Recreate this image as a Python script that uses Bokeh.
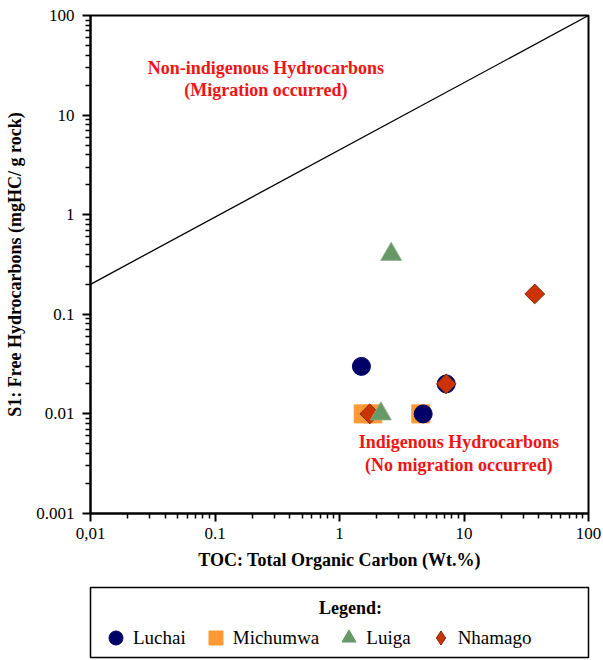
import math
from bokeh.plotting import figure
from bokeh.models import (Range1d, FixedTicker, CustomJSTickFormatter, Label, Legend, LegendItem)
from bokeh.layouts import column
from bokeh.embed import file_html
from bokeh.resources import INLINE

# ---- data ----
luchai_toc = [1.5, 7.2, 4.7]
luchai_s1 = [0.03, 0.02, 0.01]
michumwa_toc = [1.55, 1.85, 4.5]
michumwa_s1 = [0.01, 0.01, 0.01]
luiga_toc = [2.6, 2.15]
luiga_s1 = [0.4, 0.01]
nhamago_toc = [37.0, 7.2, 1.75]
nhamago_s1 = [0.16, 0.02, 0.01]
boundary_toc = [0.01, 100]
boundary_s1 = [0.2, 100]
decades = [0.001, 0.01, 0.1, 1, 10, 100]

FONT = "Liberation Serif"
RED = "#f01414"
C_LUCHAI = "#000066"
C_MICHUMWA = "#ff9933"
C_LUIGA = "#669966"
C_NHAMAGO = "#cc3300"

p = figure(width=603, height=580, x_axis_type="log", y_axis_type="log",
           x_range=Range1d(0.01, 100), y_range=Range1d(0.001, 100),
           output_backend="svg", toolbar_location=None,
           min_border_left=90, min_border_right=13, min_border_top=15, min_border_bottom=67)
p.xgrid.visible = False
p.ygrid.visible = False
p.outline_line_color = "black"
p.outline_line_width = 2
p.outline_line_alpha = 1

minors = [m * d for d in decades[:-1] for m in range(2, 10)]
fmt_x = CustomJSTickFormatter(code="""
const s = Number(tick.toPrecision(3)).toString();
return (Math.abs(tick - 0.01) < 1e-6) ? s.replace('.', ',') : s;
""")
fmt_y = CustomJSTickFormatter(code="return Number(tick.toPrecision(3)).toString();")

for ax, fmt in ((p.xaxis[0], fmt_x), (p.yaxis[0], fmt_y)):
    ax.ticker = FixedTicker(ticks=decades, minor_ticks=minors)
    ax.formatter = fmt
    ax.axis_line_width = 2
    ax.axis_line_color = "black"
    ax.major_tick_line_width = 2
    ax.minor_tick_line_width = 1.5
    ax.major_tick_in = 0
    ax.major_tick_out = 8
    ax.minor_tick_in = 0
    ax.minor_tick_out = 5
    ax.major_label_text_font = FONT
    ax.major_label_text_font_size = "17px"
    ax.major_label_text_color = "black"
    ax.axis_label_text_font = FONT
    ax.axis_label_text_font_size = "18px"
    ax.axis_label_text_font_style = "bold"
    ax.axis_label_text_color = "black"

p.xaxis.axis_label = "TOC: Total Organic Carbon (Wt.%)"
p.yaxis.axis_label = "S1: Free Hydrocarbons (mgHC/ g rock)"
p.xaxis.major_label_standoff = 6
p.yaxis.major_label_standoff = 8
p.xaxis.axis_label_standoff = 8
p.yaxis.axis_label_standoff = 8

p.line(boundary_toc, boundary_s1, line_color="black", line_width=1.3)

p.scatter(michumwa_toc, michumwa_s1, marker="square", size=18,
          fill_color=C_MICHUMWA, line_color=C_MICHUMWA)
p.scatter(luchai_toc, luchai_s1, marker="circle", size=18,
          fill_color=C_LUCHAI, line_color=C_LUCHAI)
p.scatter(nhamago_toc, nhamago_s1, marker="square", angle=math.pi / 4, size=14,
          fill_color=C_NHAMAGO, line_color="#7a2a10", line_width=1)
p.scatter(luiga_toc, luiga_s1, marker="triangle", size=21,
          fill_color=C_LUIGA, line_color="#8fb38f", line_width=0.8)

for txt, x, y in (("Non-indigenous Hydrocarbons", 0.256, 30),
                  ("(Migration occurred)", 0.256, 18),
                  ("Indigenous Hydrocarbons", 9.1, 0.0052),
                  ("(No migration occurred)", 9.1, 0.0031)):
    p.add_layout(Label(x=x, y=y, text=txt, text_align="center", text_baseline="middle",
                       text_font=FONT, text_font_size="18px", text_font_style="bold",
                       text_color=RED))

# ---- legend panel ----
p2 = figure(width=603, height=80, x_range=Range1d(0, 1), y_range=Range1d(0, 1),
            x_axis_location=None, y_axis_location=None,
            output_backend="svg", toolbar_location=None,
            min_border_left=88, min_border_right=15, min_border_top=7, min_border_bottom=3)
p2.grid.visible = False
p2.outline_line_color = "black"
p2.outline_line_width = 1.5
p2.outline_line_alpha = 1

# hidden copies of the series, used only to draw legend swatches
r1 = p2.scatter(luchai_toc, luchai_s1, marker="circle", fill_color=C_LUCHAI, line_color=C_LUCHAI, visible=False)
r2 = p2.scatter(michumwa_toc, michumwa_s1, marker="square", fill_color=C_MICHUMWA, line_color=C_MICHUMWA, visible=False)
r3 = p2.scatter(luiga_toc, luiga_s1, marker="triangle", fill_color=C_LUIGA, line_color=C_LUIGA, visible=False)
r4 = p2.scatter(nhamago_toc, nhamago_s1, marker="diamond", fill_color=C_NHAMAGO,
                line_color="#7a2a10", visible=False)

legend = Legend(items=[LegendItem(label="Luchai", renderers=[r1]),
                       LegendItem(label="Michumwa", renderers=[r2]),
                       LegendItem(label="Luiga", renderers=[r3]),
                       LegendItem(label="Nhamago", renderers=[r4])],
                orientation="horizontal", location=(8, 2),
                padding=0, margin=0, spacing=12,
                glyph_width=35, glyph_height=35, label_standoff=0,
                label_text_font=FONT, label_text_font_size="19px", label_text_color="black",
                border_line_alpha=0, background_fill_alpha=0,
                inactive_fill_alpha=0)
p2.add_layout(legend)
p2.add_layout(Label(x=0.522, y=0.714, text="Legend:", text_align="center", text_baseline="middle",
                    text_font=FONT, text_font_size="18px", text_font_style="bold",
                    text_color="black"))

layout = column(p, p2)
html = file_html(layout, INLINE)
# make the browser pick up the serif face (regular and bold) before the plot draws
preload = ('<div style="position:absolute;left:-2000px;top:0;font-family:\'Liberation Serif\';font-size:18px">'
           'Aa0.1 <b>Aa0.1</b></div>')
html = html.replace("<body>", "<body>" + preload, 1)
open("out.html", "w").write(html)
